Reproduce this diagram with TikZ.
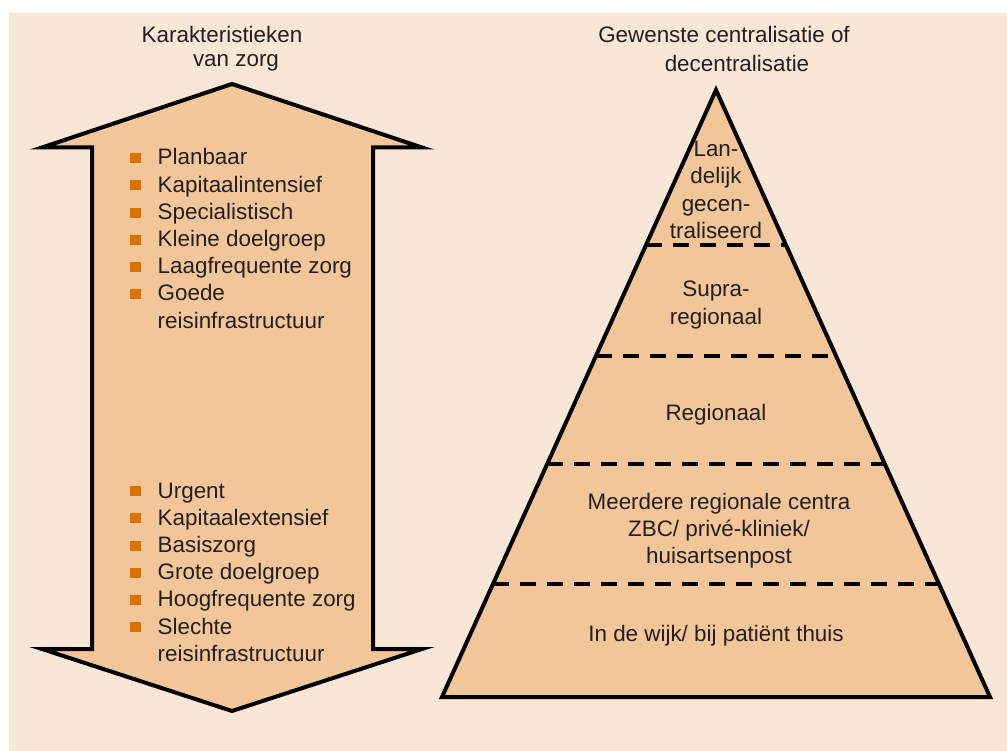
\documentclass[tikz,border=0pt]{standalone}
\usepackage{fontspec}
\setmainfont{Liberation Sans}
\usetikzlibrary{calc,positioning}
\definecolor{panelbg}{RGB}{248,231,214}
\definecolor{shapefill}{RGB}{242,198,152}
\definecolor{bulletorange}{RGB}{217,114,0}
\definecolor{inkgray}{RGB}{35,31,32}
\newcommand{\sqbullet}{\textcolor{bulletorange}{\rule[1.8pt]{10.5pt}{10pt}}}
\tikzset{
  outline/.style={
    draw=black,
    line width=4pt,
    fill=shapefill,
    line join=miter
  },
  level line/.style={
    draw=black,
    line width=4pt,
    dash pattern=on 16pt off 11pt
  },
  label text/.style={
    font=\fontsize{22.4}{27.2}\selectfont,
    text=inkgray,
    inner sep=0pt,
    align=center
  },
  list text/.style={
    font=\fontsize{22.4}{27.2}\selectfont,
    text=inkgray,
    inner sep=0pt,
    anchor=base west
  }
}

\begin{document}
\begin{tikzpicture}[x=1pt, y=-1pt]
   \useasboundingbox (0,0) rectangle (1007,751);
   \fill[panelbg] (9,13) rectangle (1007,751);

   \draw[outline] (232,84) -- (422,147.5) -- (373,147.5) -- (373,649)
      -- (422,649) -- (232,711) -- (42,649) -- (92,649) -- (92,147.5)
      -- (42,147.5) -- cycle;

   \coordinate (apex)  at (716,90);
   \coordinate (baseL) at (442,697);
   \coordinate (baseR) at (990,697);
   \draw[outline] (apex) -- (baseR) -- (baseL) -- cycle;
   \foreach \t in {0.2557,0.4377,0.6164,0.8131}
      \draw[level line] ($(apex)!\t!(baseL)$) -- ($(apex)!\t!(baseR)$);

   \node[label text] (leftTitle)  at (222,34) {Karakteristieken};
   \node[label text] (leftSub)    at (236,63) {van zorg};
   \node[label text] (rightTitle) at (724,34) {Gewenste centralisatie of};
   \node[label text] (rightSub)   at (737,63) {decentralisatie};

   \node[list text] (upperList) at (130,165) {%
     \begin{tabular}[t]{@{}l@{\hspace{17pt}}l@{}}
       \sqbullet & Planbaar\\
       \sqbullet & Kapitaalintensief\\
       \sqbullet & Specialistisch\\
       \sqbullet & Kleine doelgroep\\
       \sqbullet & Laagfrequente zorg\\
       \sqbullet & Goede\\
                 & reisinfrastructuur
     \end{tabular}};
   \node[list text] (lowerList) at (130,498) {%
     \begin{tabular}[t]{@{}l@{\hspace{17pt}}l@{}}
       \sqbullet & Urgent\\
       \sqbullet & Kapitaalextensief\\
       \sqbullet & Basiszorg\\
       \sqbullet & Grote doelgroep\\
       \sqbullet & Hoogfrequente zorg\\
       \sqbullet & Slechte\\
                 & reisinfrastructuur
     \end{tabular}};

   \node[label text] (layerTop)   at (716,190) {Lan-\\delijk\\gecen-\\traliseerd};
   \node[label text] (layerSupra) at (716,305) {Supra-\\regionaal};
   \node[label text] (layerReg)   at (716,415) {Regionaal};
   \node[label text] (layerMulti) at (719,531) {Meerdere regionale centra\\ZBC/ privé-kliniek/\\huisartsenpost};
   \node[label text] (layerWijk)  at (716,636) {In de wijk/ bij patiënt thuis};
\end{tikzpicture}
\end{document}
